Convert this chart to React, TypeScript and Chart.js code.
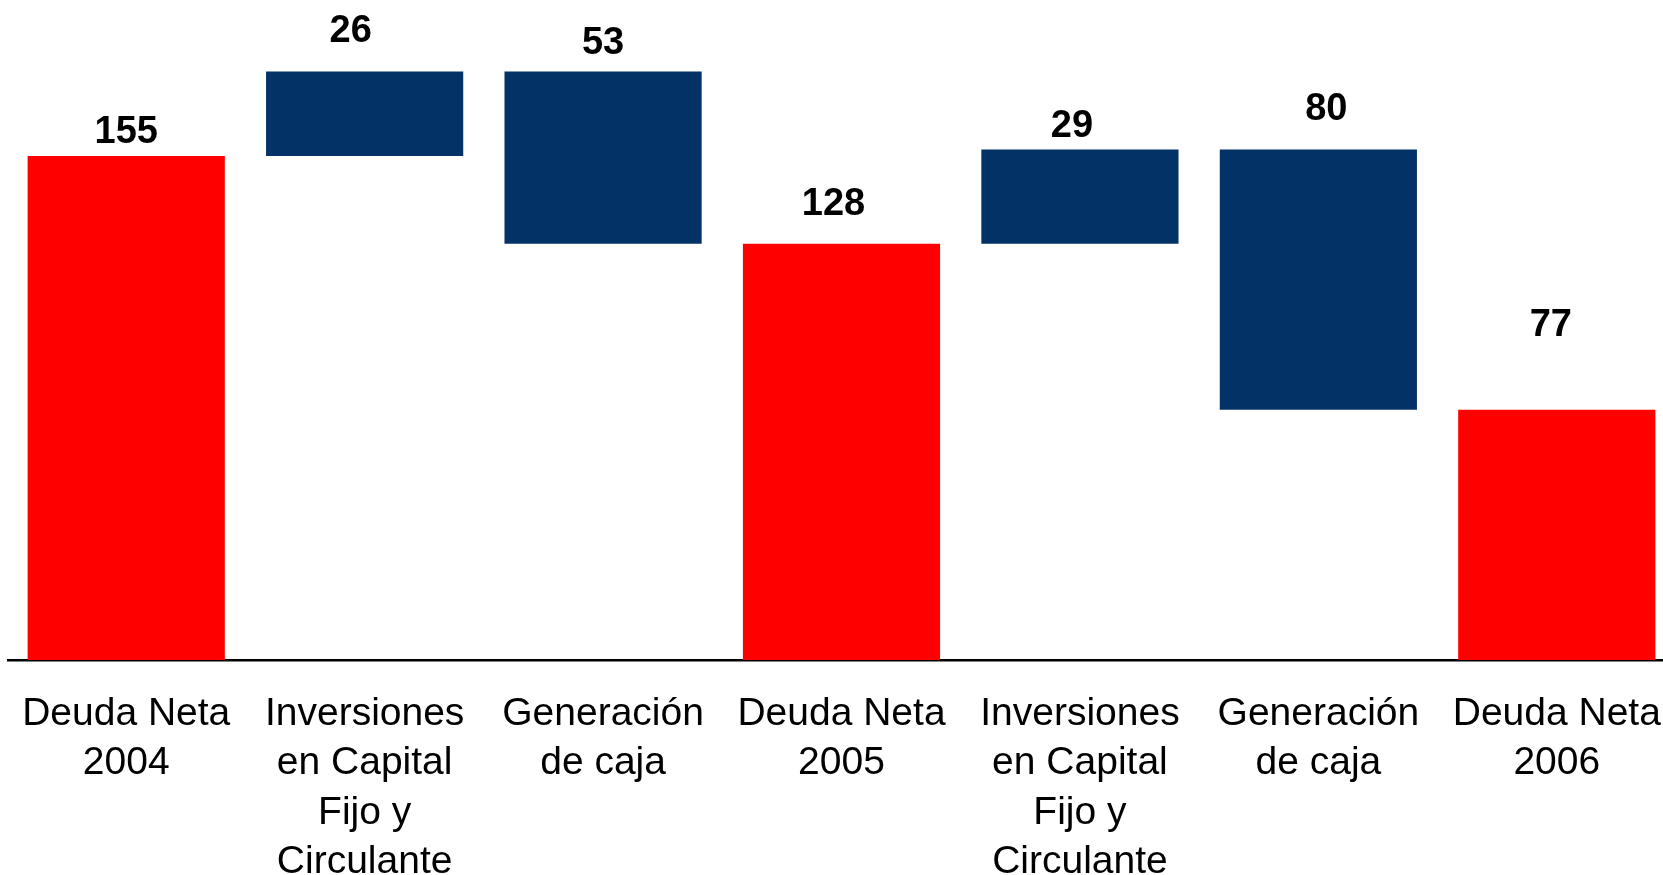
import React, { useEffect, useRef } from "react";
import { Chart, registerables } from "chart.js";

Chart.register(...registerables);

const categories: string[][] = [
  ["Deuda Neta", "2004"],
  ["Inversiones", "en Capital", "Fijo y", "Circulante"],
  ["Generación", "de caja"],
  ["Deuda Neta", "2005"],
  ["Inversiones", "en Capital", "Fijo y", "Circulante"],
  ["Generación", "de caja"],
  ["Deuda Neta", "2006"],
];
const barLow: number[] = [0, 155, 128, 0, 128, 77, 0];
const barHigh: number[] = [155, 181, 181, 128, 157, 157, 77];
const valueLabels: string[] = ["155", "26", "53", "128", "29", "80", "77"];
const labelPos: number[] = [162.3, 193.3, 189.6, 140, 164, 169.4, 103];
const isTotal: boolean[] = [true, false, false, true, false, false, true];

const LABEL_DX = [0, -14, 0, -8, -8, 8, -6];
const RED = "#FF0000";
const NAVY = "#033366";
const FONT = "'Liberation Sans', Arial, sans-serif";

export default function App() {
  const ref = useRef<HTMLCanvasElement | null>(null);

  useEffect(() => {
    if (!ref.current) return;
    const labelPlugin = {
      id: "valueLabels",
      afterDatasetsDraw(chart: any) {
        const ctx = chart.ctx;
        const meta = chart.getDatasetMeta(0);
        const y = chart.scales.y;
        ctx.save();
        ctx.font = `bold 38px ${FONT}`;
        ctx.fillStyle = "#000";
        ctx.textAlign = "center";
        ctx.textBaseline = "middle";
        meta.data.forEach((bar: any, i: number) => {
          ctx.fillText(valueLabels[i], bar.x + LABEL_DX[i], y.getPixelForValue(labelPos[i]));
        });
        ctx.restore();
      },
    };
    const chart = new Chart(ref.current, {
      type: "bar",
      data: {
        labels: categories,
        datasets: [
          {
            data: barLow.map((lo, i) => [lo, barHigh[i]]) as any,
            backgroundColor: isTotal.map((t) => (t ? RED : NAVY)),
            borderWidth: 0,
            barPercentage: 0.827,
            categoryPercentage: 1,
          },
        ],
      },
      options: {
        responsive: false,
        animation: false,
        devicePixelRatio: 1,
        layout: { padding: 0 },
        plugins: { legend: { display: false }, tooltip: { enabled: false } },
        scales: {
          x: {
            grid: { display: false, drawTicks: false },
            border: { display: true, color: "#000", width: 2.5 },
            ticks: {
              color: "#000",
              padding: 30,
              maxRotation: 0,
              autoSkip: false,
              font: { family: FONT, size: 39, lineHeight: 1.26 },
            },
            afterFit(scale: any) {
              scale.height = 215;
              scale.paddingLeft = 0;
              scale.paddingRight = 0;
            },
          },
          y: {
            display: false,
            min: 0,
            max: 203,
          },
        },
      },
      plugins: [labelPlugin],
    });
    return () => chart.destroy();
  }, []);

  return (
    <div
      style={{
        position: "fixed",
        left: 0,
        top: 0,
        width: "1663px",
        height: "875px",
        overflow: "hidden",
        background: "#fff",
      }}
    >
      <canvas
        ref={ref}
        width={1669}
        height={875}
        style={{ position: "absolute", left: "7px", top: 0, display: "block" }}
      />
    </div>
  );
}
